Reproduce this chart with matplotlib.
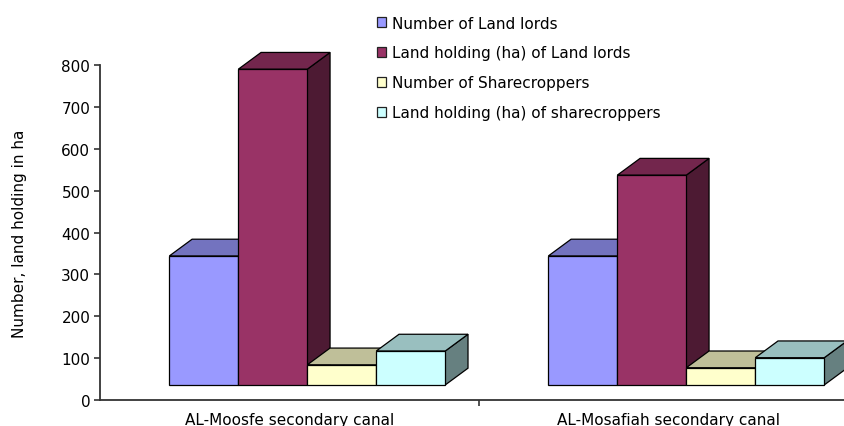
import numpy as np
import matplotlib
matplotlib.use('Agg')
import matplotlib.pyplot as plt
from matplotlib.patches import Polygon, Patch

# Canal data (counts and land holding in ha)
categories = ['AL-Moosfe secondary canal', 'AL-Mosafiah secondary canal']
series_names = ['Number of Land lords', 'Land holding (ha) of Land lords',
                'Number of Sharecroppers', 'Land holding (ha) of sharecroppers']
landlord_count = [308, 308]
landlord_area = [754, 501]
share_count = [48, 41]
share_area = [81, 65]

front_colors = ['#9999FF', '#993366', '#FFFFCC', '#CCFFFF']


def shade(hex_color, factor):
    rgb = np.array(matplotlib.colors.to_rgb(hex_color))
    return tuple(rgb * factor)


def bar3d(ax, x0, width, height, base, dx, dy, color, z):
    ''' Draw one oblique 3D column: front face, top face and right side '''
    x1 = x0 + width
    y0, y1 = base, base + height
    front = Polygon([(x0, y0), (x1, y0), (x1, y1), (x0, y1)], closed=True,
                    facecolor=color, edgecolor='black', lw=0.9, zorder=z)
    top = Polygon([(x0, y1), (x1, y1), (x1 + dx, y1 + dy), (x0 + dx, y1 + dy)], closed=True,
                  facecolor=shade(color, 0.75), edgecolor='black', lw=0.9, zorder=z)
    side = Polygon([(x1, y0), (x1 + dx, y0 + dy), (x1 + dx, y1 + dy), (x1, y1)], closed=True,
                   facecolor=shade(color, 0.5), edgecolor='black', lw=0.9, zorder=z)
    for p in (side, top, front):
        p.set_clip_on(False)
        ax.add_patch(p)


fig = plt.figure(figsize=(8.44, 4.27), dpi=100)
ax = fig.add_axes([100 / 844., 1 - 401 / 427., 758 / 844., 335 / 427.])
ax.set_xlim(-0.5, 1.5)
ax.set_ylim(0, 800)

series = [landlord_count, landlord_area, share_count, share_area]
bar_w = 0.182
group_off = -0.317
depth_x = 0.060
depth_y = 40
floor_y = 36

z = 3
for ci in range(len(categories)):
    for si, vals in enumerate(series):
        x0 = ci + group_off + si * bar_w
        bar3d(ax, x0, bar_w, vals[ci], floor_y, depth_x, depth_y, front_colors[si], z)
        z += 1

# Axes styling
for s in ['top', 'right']:
    ax.spines[s].set_visible(False)
for s in ['left', 'bottom']:
    ax.spines[s].set_color('#333333')
    ax.spines[s].set_linewidth(1.3)

ax.set_yticks(np.arange(0, 801, 100))
ax.tick_params(axis='y', length=4, width=1.2, color='#333333', labelsize=11, pad=3)
ax.set_xticks([0.5])
ax.set_xticklabels([])
ax.set_xticks([0, 1], minor=True)
ax.set_xticklabels(categories, minor=True)
ax.tick_params(axis='x', which='major', length=4, width=1.2, color='#333333')
ax.tick_params(axis='x', which='minor', length=0, labelsize=11, pad=9)
ax.set_ylabel('Number, land holding in ha', fontsize=11, labelpad=25)

handles = [Patch(facecolor=c, edgecolor='#222222', lw=0.9) for c in front_colors]
fig.legend(handles, series_names, loc='upper left', bbox_to_anchor=(377 / 844., 1 - 16.5 / 427.),
           frameon=False, fontsize=11, handlelength=0.6, handleheight=0.6,
           handletextpad=0.4, labelspacing=0.98, borderpad=0, borderaxespad=0)

fig.savefig('out.png', dpi=100)
